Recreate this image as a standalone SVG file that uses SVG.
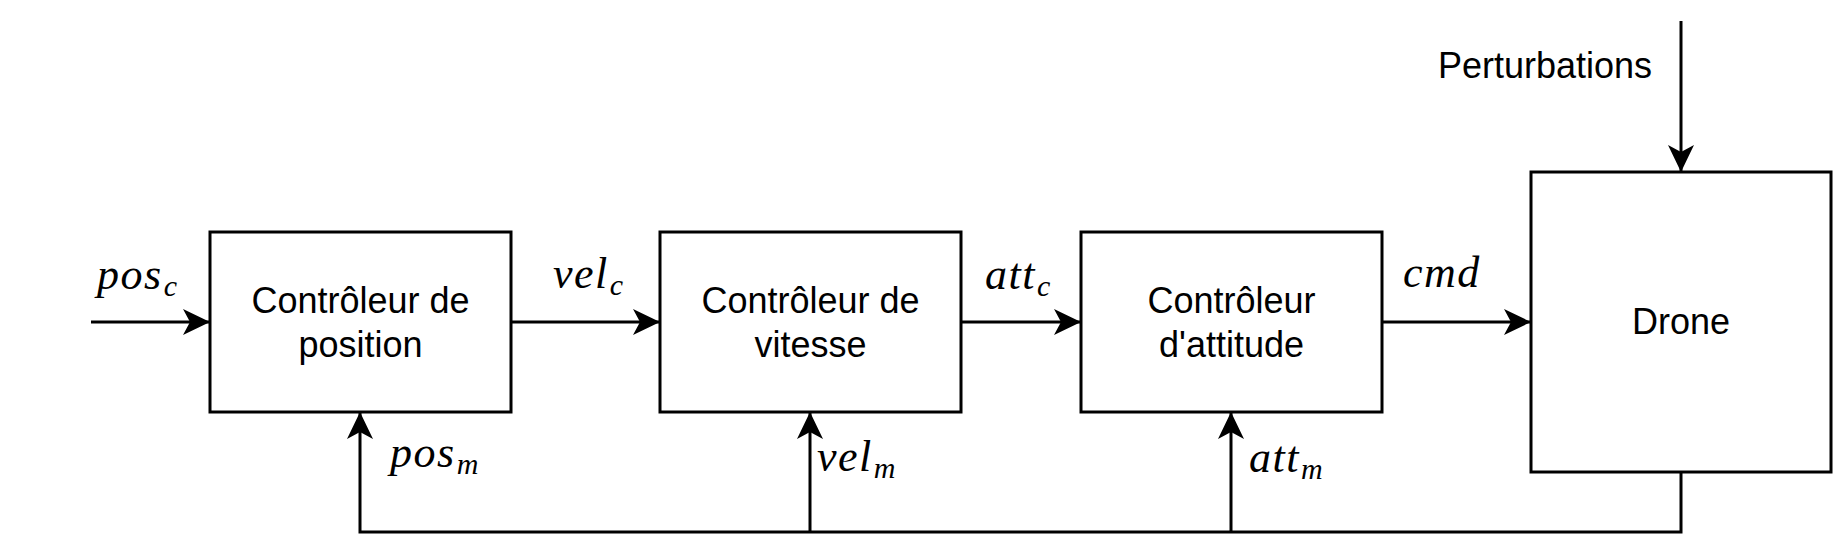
<svg xmlns="http://www.w3.org/2000/svg" width="1833" height="558" viewBox="0 0 1833 558">
<style>
.box{fill:#fff;stroke:#000;stroke-width:3}
.lbl{font-family:"Liberation Sans",Arial,sans-serif;font-size:36px;fill:#000;text-anchor:middle}
.math{font-family:"Liberation Serif","Times New Roman",serif;font-style:italic;font-size:44px;letter-spacing:1.5px;fill:#000}
.sub{font-size:30px;letter-spacing:0}
.wire{fill:none;stroke:#000;stroke-width:3}
</style>
<defs>
<marker id="arr" markerUnits="userSpaceOnUse" markerWidth="27" markerHeight="26" viewBox="0 0 27 26" refX="27" refY="13" orient="auto">
<path d="M27,13 L0,0 L7,13 L0,26 Z" fill="#000"/>
</marker>
</defs>
<rect width="1833" height="558" fill="#fff"/>
<g id="connectors">
<path class="wire" d="M91,322 H210" marker-end="url(#arr)"/>
<path class="wire" d="M511,322 H660" marker-end="url(#arr)"/>
<path class="wire" d="M961,322 H1081" marker-end="url(#arr)"/>
<path class="wire" d="M1382,322 H1531" marker-end="url(#arr)"/>
<path class="wire" d="M1681,21 V172" marker-end="url(#arr)"/>
<path class="wire" d="M1681,472 V532 H360 V412" marker-end="url(#arr)"/>
<path class="wire" d="M810,532 V412" marker-end="url(#arr)"/>
<path class="wire" d="M1231,532 V412" marker-end="url(#arr)"/>
<text class="math" x="97" y="289">pos<tspan class="sub" dx="1" dy="7">c</tspan></text>
<text class="math" x="553" y="288">vel<tspan class="sub" dx="1" dy="7">c</tspan></text>
<text class="math" x="985" y="289">att<tspan class="sub" dx="1" dy="7">c</tspan></text>
<text class="math" x="1403" y="287">cmd</text>
<text class="math" x="390" y="467">pos<tspan class="sub" dx="1" dy="7">m</tspan></text>
<text class="math" x="817" y="471">vel<tspan class="sub" dx="1" dy="7">m</tspan></text>
<text class="math" x="1249" y="472">att<tspan class="sub" dx="1" dy="7">m</tspan></text>
<text x="1652" y="78" style="font-family:'Liberation Sans',Arial,sans-serif;font-size:36px;fill:#000;text-anchor:end">Perturbations</text>
</g>
<g id="pos-ctrl">
<rect class="box" x="210" y="232" width="301" height="180"/>
<text class="lbl" x="360.5" y="313">Contrôleur de</text>
<text class="lbl" x="360.5" y="357">position</text>
</g>
<g id="vel-ctrl">
<rect class="box" x="660" y="232" width="301" height="180"/>
<text class="lbl" x="810.5" y="313">Contrôleur de</text>
<text class="lbl" x="810.5" y="357">vitesse</text>
</g>
<g id="att-ctrl">
<rect class="box" x="1081" y="232" width="301" height="180"/>
<text class="lbl" x="1231.5" y="313">Contrôleur</text>
<text class="lbl" x="1231.5" y="357">d'attitude</text>
</g>
<g id="drone">
<rect class="box" x="1531" y="172" width="300" height="300"/>
<text class="lbl" x="1681" y="334">Drone</text>
</g>
</svg>
